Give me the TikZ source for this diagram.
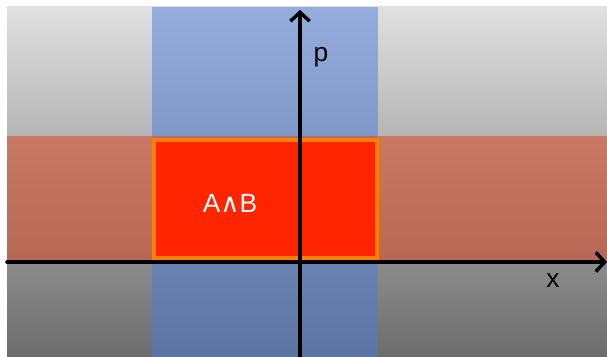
\documentclass[tikz,border=0pt]{standalone}
\usepackage{fontspec}
\setmainfont{Liberation Sans}
\newfontfamily\symfont{DejaVu Sans}
\usetikzlibrary{arrows.meta}
\definecolor{bgtop}{RGB}{224,224,224}
\definecolor{bgbot}{RGB}{108,108,108}
\definecolor{bandblue}{RGB}{74,124,218}
\definecolor{bandred}{RGB}{215,80,50}
\definecolor{boxred}{RGB}{255,37,0}
\definecolor{rimorange}{RGB}{255,128,0}

\begin{document}
\begin{tikzpicture}[x=0.02cm,y=-0.02cm,line cap=round]
	\tikzstyle{axis}=[line width=2pt,-{Straight Barb[length=5pt,width=11pt]}];
	\tikzstyle{lbl}=[inner sep=0pt,font=\fontsize{15}{17}\selectfont];
	\useasboundingbox (0,0) rectangle (607,357);
	%% background
	\shade[top color=bgtop,bottom color=bgbot] (7,7) rectangle (607,357);
	%% bands
	\fill[bandblue,opacity=.5] (152,7) rectangle (378,357);
	\fill[bandred,opacity=.6]  (7,136) rectangle (607,260);
	%% A and B
	\draw[line width=2.2pt,draw=rimorange,fill=boxred] (154,140) rectangle (377,258);
	\node[lbl,text=white] (AB) at (230,203) {A{\symfont∧}B};
	%% axes
	\coordinate (xl) at (7,262);
	\coordinate (xr) at (607,262);
	\coordinate (pb) at (300,357);
	\coordinate (pt) at (300,10);
	\draw[axis] (xl) -- (xr);
	\draw[axis] (pb) -- (pt);
	\node[lbl] (xlab) at (553,281) {x};
	\node[lbl] (plab) at (321,57)  {p};
\end{tikzpicture}
\end{document}
